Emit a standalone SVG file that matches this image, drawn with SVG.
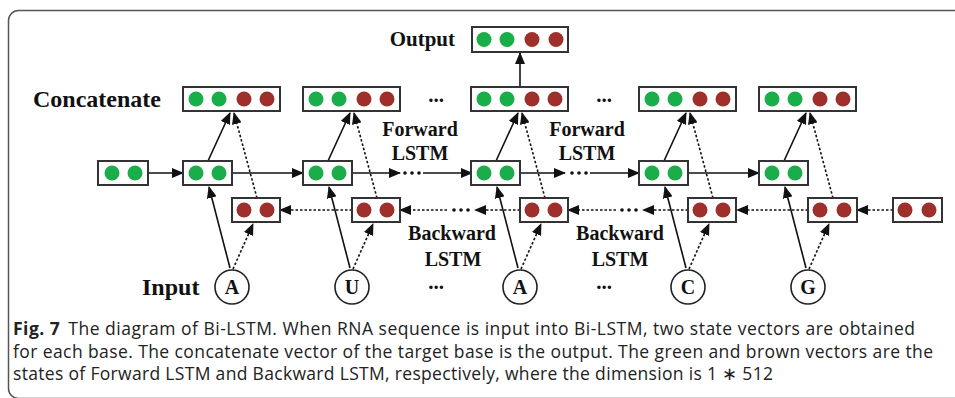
<svg xmlns="http://www.w3.org/2000/svg" width="955" height="398" viewBox="0 0 955 398">
<style>
.box{fill:#fff;stroke:#333;stroke-width:2}
.g{fill:#1aae4a}
.b{fill:#9e2f2a}
.lbl{font-family:"Liberation Serif","Times New Roman",serif;font-weight:bold;fill:#111}
.mid{text-anchor:middle}
.solid{stroke:#111;stroke-width:1.6;fill:none}
.dot{stroke:#111;stroke-width:1.6;stroke-dasharray:2.5 2;fill:none}
.arr{marker-end:url(#ah)}
.ell{fill:#111}
.inp{fill:#fff;stroke:#222;stroke-width:1.6}
.cap{font-family:"Open Sans","Noto Sans","Liberation Sans",sans-serif;font-size:17.5px;fill:#222}
</style>
<defs>
<marker id="ah" markerUnits="userSpaceOnUse" markerWidth="12" markerHeight="10" refX="11" refY="5" orient="auto">
<path d="M0,0 L12,5 L0,10 z" fill="#111"/>
</marker>
</defs>
<rect x="8.5" y="10.5" width="1000" height="388" rx="10" fill="none" stroke="#555" stroke-width="1.5"/>

<!-- labels -->
<text class="lbl" x="33" y="107" font-size="24">Concatenate</text>
<text class="lbl" x="455" y="46" font-size="21" text-anchor="end">Output</text>
<text class="lbl" x="142" y="295" font-size="24">Input</text>
<text class="lbl mid" x="420" y="136" font-size="20">Forward</text>
<text class="lbl mid" x="420" y="160" font-size="20">LSTM</text>
<text class="lbl mid" x="587" y="136" font-size="20">Forward</text>
<text class="lbl mid" x="587" y="160" font-size="20">LSTM</text>
<text class="lbl mid" x="452" y="240" font-size="20">Backward</text>
<text class="lbl mid" x="453" y="266" font-size="20">LSTM</text>
<text class="lbl mid" x="620" y="240" font-size="20">Backward</text>
<text class="lbl mid" x="620" y="266" font-size="20">LSTM</text>
<text class="lbl mid" x="436" y="102" font-size="21">...</text>
<text class="lbl mid" x="604" y="102" font-size="21">...</text>
<text class="lbl mid" x="436" y="289" font-size="21">...</text>
<text class="lbl mid" x="604" y="289" font-size="21">...</text>

<!-- connectors -->
<g id="connectors">
<path class="solid arr" d="M148,173 H183"/>
<path class="solid arr" d="M232,173 H303"/>
<path class="solid arr" d="M352,173 H400"/>
<path class="solid arr" d="M423,173 H472"/>
<path class="solid arr" d="M520,173 H565"/>
<path class="solid arr" d="M590,173 H639"/>
<path class="solid arr" d="M688,173 H759"/>
<circle class="ell" cx="405" cy="173" r="1.8"/><circle class="ell" cx="412" cy="173" r="1.8"/><circle class="ell" cx="419" cy="173" r="1.8"/>
<circle class="ell" cx="572" cy="173" r="1.8"/><circle class="ell" cx="579" cy="173" r="1.8"/><circle class="ell" cx="586" cy="173" r="1.8"/>

<path class="dot arr" d="M893,210 H857"/>
<path class="dot arr" d="M808,210 H737"/>
<path class="dot arr" d="M688,210 H643"/>
<path class="dot arr" d="M616,210 H568"/>
<path class="dot arr" d="M520,210 H475"/>
<path class="dot arr" d="M447,210 H400"/>
<path class="dot arr" d="M352,210 H280"/>
<circle class="ell" cx="622" cy="210" r="1.8"/><circle class="ell" cx="629" cy="210" r="1.8"/><circle class="ell" cx="636" cy="210" r="1.8"/>
<circle class="ell" cx="454" cy="210" r="1.8"/><circle class="ell" cx="461" cy="210" r="1.8"/><circle class="ell" cx="468" cy="210" r="1.8"/>

<path class="solid arr" d="M520,87 V53"/>

<!-- column 1 c=232 -->
<path class="solid arr" d="M230,268 L209,187"/>
<path class="dot arr" d="M233,269 L253,224"/>
<path class="solid arr" d="M208,161 L230,113"/>
<path class="dot arr" d="M257,198 L234,113"/>
<!-- column 2 c=352 -->
<path class="solid arr" d="M350,268 L329,187"/>
<path class="dot arr" d="M353,269 L373,224"/>
<path class="solid arr" d="M328,161 L350,113"/>
<path class="dot arr" d="M377,198 L354,113"/>
<!-- column 3 c=520 -->
<path class="solid arr" d="M518,268 L497,187"/>
<path class="dot arr" d="M521,269 L541,224"/>
<path class="solid arr" d="M496,161 L518,113"/>
<path class="dot arr" d="M545,198 L522,113"/>
<!-- column 4 c=688 -->
<path class="solid arr" d="M686,268 L665,187"/>
<path class="dot arr" d="M689,269 L709,224"/>
<path class="solid arr" d="M664,161 L686,113"/>
<path class="dot arr" d="M713,198 L690,113"/>
<!-- column 5 c=808 -->
<path class="solid arr" d="M806,268 L785,187"/>
<path class="dot arr" d="M809,269 L829,224"/>
<path class="solid arr" d="M784,161 L806,113"/>
<path class="dot arr" d="M833,198 L810,113"/>
</g>

<!-- nodes -->
<g id="output"><rect class="box" x="472" y="27" width="96" height="25"/>
<circle class="g" cx="484" cy="39.5" r="7.5"/><circle class="g" cx="507" cy="39.5" r="7.5"/><circle class="b" cx="532" cy="39.5" r="7.5"/><circle class="b" cx="556" cy="39.5" r="7.5"/></g>

<g id="concat1"><rect class="box" x="183" y="87" width="97" height="24"/>
<circle class="g" cx="196" cy="99" r="7.5"/><circle class="g" cx="219" cy="99" r="7.5"/><circle class="b" cx="244" cy="99" r="7.5"/><circle class="b" cx="267" cy="99" r="7.5"/></g>
<g id="concat2"><rect class="box" x="303" y="87" width="97" height="24"/>
<circle class="g" cx="316" cy="99" r="7.5"/><circle class="g" cx="339" cy="99" r="7.5"/><circle class="b" cx="364" cy="99" r="7.5"/><circle class="b" cx="387" cy="99" r="7.5"/></g>
<g id="concat3"><rect class="box" x="471" y="87" width="97" height="24"/>
<circle class="g" cx="484" cy="99" r="7.5"/><circle class="g" cx="507" cy="99" r="7.5"/><circle class="b" cx="532" cy="99" r="7.5"/><circle class="b" cx="555" cy="99" r="7.5"/></g>
<g id="concat4"><rect class="box" x="639" y="87" width="97" height="24"/>
<circle class="g" cx="652" cy="99" r="7.5"/><circle class="g" cx="675" cy="99" r="7.5"/><circle class="b" cx="700" cy="99" r="7.5"/><circle class="b" cx="723" cy="99" r="7.5"/></g>
<g id="concat5"><rect class="box" x="759" y="87" width="97" height="24"/>
<circle class="g" cx="772" cy="99" r="7.5"/><circle class="g" cx="795" cy="99" r="7.5"/><circle class="b" cx="820" cy="99" r="7.5"/><circle class="b" cx="843" cy="99" r="7.5"/></g>

<g id="fwd0"><rect class="box" x="98" y="161" width="50" height="24"/>
<circle class="g" cx="112" cy="173" r="7.5"/><circle class="g" cx="135" cy="173" r="7.5"/></g>
<g id="fwd1"><rect class="box" x="183" y="161" width="49" height="24"/>
<circle class="g" cx="196" cy="173" r="7.5"/><circle class="g" cx="219" cy="173" r="7.5"/></g>
<g id="fwd2"><rect class="box" x="303" y="161" width="49" height="24"/>
<circle class="g" cx="316" cy="173" r="7.5"/><circle class="g" cx="339" cy="173" r="7.5"/></g>
<g id="fwd3"><rect class="box" x="471" y="161" width="49" height="24"/>
<circle class="g" cx="484" cy="173" r="7.5"/><circle class="g" cx="507" cy="173" r="7.5"/></g>
<g id="fwd4"><rect class="box" x="639" y="161" width="49" height="24"/>
<circle class="g" cx="652" cy="173" r="7.5"/><circle class="g" cx="675" cy="173" r="7.5"/></g>
<g id="fwd5"><rect class="box" x="759" y="161" width="49" height="24"/>
<circle class="g" cx="772" cy="173" r="7.5"/><circle class="g" cx="795" cy="173" r="7.5"/></g>

<g id="bwd1"><rect class="box" x="232" y="198" width="48" height="24"/>
<circle class="b" cx="244" cy="210" r="7.5"/><circle class="b" cx="267" cy="210" r="7.5"/></g>
<g id="bwd2"><rect class="box" x="352" y="198" width="48" height="24"/>
<circle class="b" cx="364" cy="210" r="7.5"/><circle class="b" cx="387" cy="210" r="7.5"/></g>
<g id="bwd3"><rect class="box" x="520" y="198" width="48" height="24"/>
<circle class="b" cx="532" cy="210" r="7.5"/><circle class="b" cx="555" cy="210" r="7.5"/></g>
<g id="bwd4"><rect class="box" x="688" y="198" width="48" height="24"/>
<circle class="b" cx="700" cy="210" r="7.5"/><circle class="b" cx="723" cy="210" r="7.5"/></g>
<g id="bwd5"><rect class="box" x="808" y="198" width="49" height="24"/>
<circle class="b" cx="820" cy="210" r="7.5"/><circle class="b" cx="844" cy="210" r="7.5"/></g>
<g id="bwd6"><rect class="box" x="893" y="198" width="49" height="24"/>
<circle class="b" cx="905" cy="210" r="7.5"/><circle class="b" cx="929" cy="210" r="7.5"/></g>

<g id="in1"><circle class="inp" cx="232" cy="287" r="17"/><text class="lbl mid" x="232" y="294" font-size="20">A</text></g>
<g id="in2"><circle class="inp" cx="352" cy="287" r="17"/><text class="lbl mid" x="352" y="294" font-size="20">U</text></g>
<g id="in3"><circle class="inp" cx="520" cy="287" r="17"/><text class="lbl mid" x="520" y="294" font-size="20">A</text></g>
<g id="in4"><circle class="inp" cx="688" cy="287" r="17"/><text class="lbl mid" x="688" y="294" font-size="20">C</text></g>
<g id="in5"><circle class="inp" cx="808" cy="287" r="17"/><text class="lbl mid" x="808" y="294" font-size="20">G</text></g>

<!-- caption -->
<text class="cap" x="13" y="335" textLength="902" lengthAdjust="spacing"><tspan font-weight="bold">Fig. 7</tspan><tspan dx="8">The diagram of Bi-LSTM. When RNA sequence is input into Bi-LSTM, two state vectors are obtained</tspan></text>
<text class="cap" x="13" y="358" textLength="920" lengthAdjust="spacing">for each base. The concatenate vector of the target base is the output. The green and brown vectors are the</text>
<text class="cap" x="13" y="380" textLength="760" lengthAdjust="spacing">states of Forward LSTM and Backward LSTM, respectively, where the dimension is 1 ∗ 512</text>
</svg>
